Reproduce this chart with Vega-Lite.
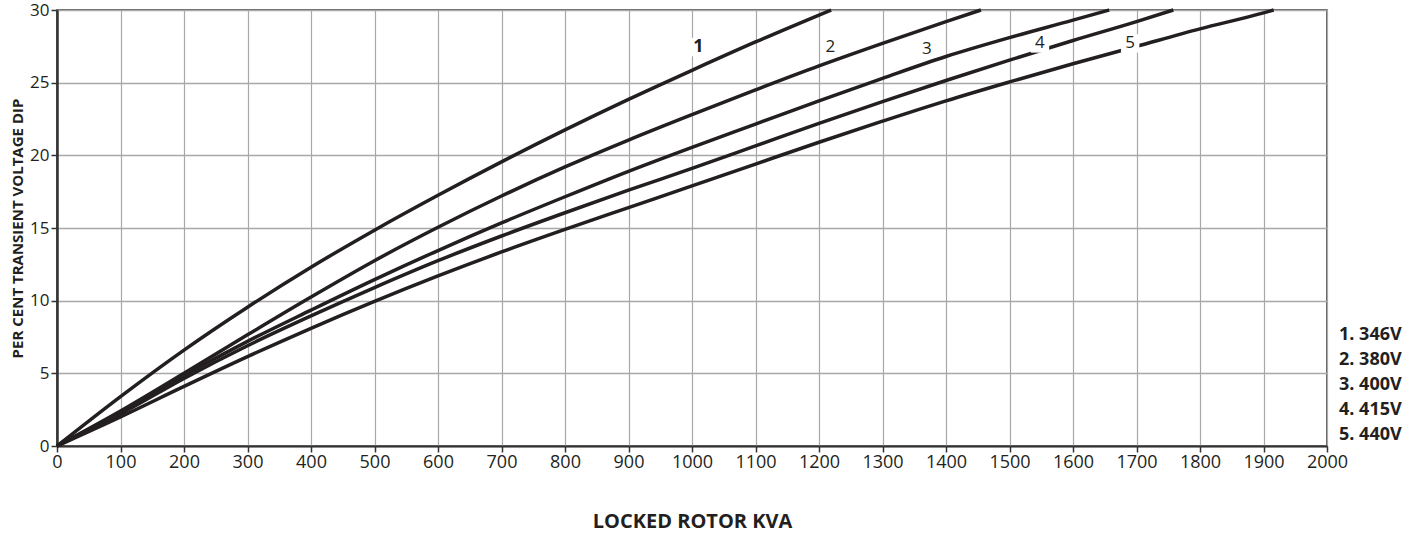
{
  "$schema": "https://vega.github.io/schema/vega-lite/v6.json",
  "width": 1270,
  "height": 436,
  "autosize": {"type": "none"},
  "padding": {"left": 57, "top": 10, "right": 89, "bottom": 87},
  "background": "white",
  "config": {"view": {"stroke": "#333333", "strokeWidth": 1.5}, "font": "Open Sans"},
  "datasets": {
    "curves": [
      {"series": "1. 346V", "kva": 0, "dip": 0},
      {"series": "1. 346V", "kva": 100, "dip": 3.4},
      {"series": "1. 346V", "kva": 200, "dip": 6.6},
      {"series": "1. 346V", "kva": 300, "dip": 9.55},
      {"series": "1. 346V", "kva": 400, "dip": 12.3},
      {"series": "1. 346V", "kva": 500, "dip": 14.85},
      {"series": "1. 346V", "kva": 600, "dip": 17.25},
      {"series": "1. 346V", "kva": 700, "dip": 19.55},
      {"series": "1. 346V", "kva": 800, "dip": 21.75},
      {"series": "1. 346V", "kva": 900, "dip": 23.85},
      {"series": "1. 346V", "kva": 1000, "dip": 25.85},
      {"series": "1. 346V", "kva": 1100, "dip": 27.8},
      {"series": "1. 346V", "kva": 1219, "dip": 30},
      {"series": "2. 380V", "kva": 0, "dip": 0},
      {"series": "2. 380V", "kva": 100, "dip": 2.4},
      {"series": "2. 380V", "kva": 200, "dip": 5.0},
      {"series": "2. 380V", "kva": 300, "dip": 7.65},
      {"series": "2. 380V", "kva": 400, "dip": 10.25},
      {"series": "2. 380V", "kva": 500, "dip": 12.75},
      {"series": "2. 380V", "kva": 600, "dip": 15.05},
      {"series": "2. 380V", "kva": 700, "dip": 17.2},
      {"series": "2. 380V", "kva": 800, "dip": 19.2},
      {"series": "2. 380V", "kva": 900, "dip": 21.05},
      {"series": "2. 380V", "kva": 1000, "dip": 22.8},
      {"series": "2. 380V", "kva": 1100, "dip": 24.5},
      {"series": "2. 380V", "kva": 1200, "dip": 26.15},
      {"series": "2. 380V", "kva": 1300, "dip": 27.7},
      {"series": "2. 380V", "kva": 1400, "dip": 29.2},
      {"series": "2. 380V", "kva": 1455, "dip": 30},
      {"series": "3. 400V", "kva": 0, "dip": 0},
      {"series": "3. 400V", "kva": 100, "dip": 2.3},
      {"series": "3. 400V", "kva": 200, "dip": 4.85},
      {"series": "3. 400V", "kva": 300, "dip": 7.2},
      {"series": "3. 400V", "kva": 400, "dip": 9.35},
      {"series": "3. 400V", "kva": 500, "dip": 11.45},
      {"series": "3. 400V", "kva": 600, "dip": 13.45},
      {"series": "3. 400V", "kva": 700, "dip": 15.35},
      {"series": "3. 400V", "kva": 800, "dip": 17.15},
      {"series": "3. 400V", "kva": 900, "dip": 18.9},
      {"series": "3. 400V", "kva": 1000, "dip": 20.55},
      {"series": "3. 400V", "kva": 1100, "dip": 22.15},
      {"series": "3. 400V", "kva": 1200, "dip": 23.75},
      {"series": "3. 400V", "kva": 1300, "dip": 25.3},
      {"series": "3. 400V", "kva": 1400, "dip": 26.8},
      {"series": "3. 400V", "kva": 1500, "dip": 28.1},
      {"series": "3. 400V", "kva": 1600, "dip": 29.3},
      {"series": "3. 400V", "kva": 1657, "dip": 30},
      {"series": "4. 415V", "kva": 0, "dip": 0},
      {"series": "4. 415V", "kva": 100, "dip": 2.2},
      {"series": "4. 415V", "kva": 200, "dip": 4.65},
      {"series": "4. 415V", "kva": 300, "dip": 6.9},
      {"series": "4. 415V", "kva": 400, "dip": 8.95},
      {"series": "4. 415V", "kva": 500, "dip": 10.9},
      {"series": "4. 415V", "kva": 600, "dip": 12.75},
      {"series": "4. 415V", "kva": 700, "dip": 14.45},
      {"series": "4. 415V", "kva": 800, "dip": 16.05},
      {"series": "4. 415V", "kva": 900, "dip": 17.6},
      {"series": "4. 415V", "kva": 1000, "dip": 19.1},
      {"series": "4. 415V", "kva": 1100, "dip": 20.65},
      {"series": "4. 415V", "kva": 1200, "dip": 22.2},
      {"series": "4. 415V", "kva": 1300, "dip": 23.7},
      {"series": "4. 415V", "kva": 1400, "dip": 25.15},
      {"series": "4. 415V", "kva": 1500, "dip": 26.55},
      {"series": "4. 415V", "kva": 1600, "dip": 27.9},
      {"series": "4. 415V", "kva": 1700, "dip": 29.2},
      {"series": "4. 415V", "kva": 1758, "dip": 30},
      {"series": "5. 440V", "kva": 0, "dip": 0},
      {"series": "5. 440V", "kva": 100, "dip": 2.0},
      {"series": "5. 440V", "kva": 200, "dip": 4.1},
      {"series": "5. 440V", "kva": 300, "dip": 6.15},
      {"series": "5. 440V", "kva": 400, "dip": 8.1},
      {"series": "5. 440V", "kva": 500, "dip": 9.95},
      {"series": "5. 440V", "kva": 600, "dip": 11.7},
      {"series": "5. 440V", "kva": 700, "dip": 13.35},
      {"series": "5. 440V", "kva": 800, "dip": 14.9},
      {"series": "5. 440V", "kva": 900, "dip": 16.4},
      {"series": "5. 440V", "kva": 1000, "dip": 17.9},
      {"series": "5. 440V", "kva": 1100, "dip": 19.4},
      {"series": "5. 440V", "kva": 1200, "dip": 20.9},
      {"series": "5. 440V", "kva": 1300, "dip": 22.35},
      {"series": "5. 440V", "kva": 1400, "dip": 23.75},
      {"series": "5. 440V", "kva": 1500, "dip": 25.05},
      {"series": "5. 440V", "kva": 1600, "dip": 26.3},
      {"series": "5. 440V", "kva": 1700, "dip": 27.5},
      {"series": "5. 440V", "kva": 1800, "dip": 28.7},
      {"series": "5. 440V", "kva": 1900, "dip": 29.8},
      {"series": "5. 440V", "kva": 1916, "dip": 30}
    ],
    "labels": [
      {"lab": "1", "kva": 1010, "dip": 27.45},
      {"lab": "2", "kva": 1218, "dip": 27.45},
      {"lab": "3", "kva": 1370, "dip": 27.35},
      {"lab": "4", "kva": 1548, "dip": 27.7},
      {"lab": "5", "kva": 1690, "dip": 27.7}
    ]
  },
  "layer": [
    {
      "data": {"name": "curves"},
      "mark": {"type": "line", "strokeWidth": 3.5, "interpolate": "monotone"},
      "encoding": {
        "x": {
          "field": "kva", "type": "quantitative",
          "scale": {"domain": [0, 2000], "nice": false, "zero": false},
          "axis": {
            "values": [0,100,200,300,400,500,600,700,800,900,1000,1100,1200,1300,1400,1500,1600,1700,1800,1900,2000],
            "format": "d",
            "grid": true, "gridColor": "#a8a8a8", "gridWidth": 1.2, "gridOpacity": 1,
            "domainColor": "#333333", "domainWidth": 2,
            "tickColor": "#333333", "tickSize": 6, "tickWidth": 1.5,
            "labelFontSize": 18, "labelColor": "#231f20", "labelPadding": 1, "labelFlush": false,
            "title": "LOCKED ROTOR KVA", "titleFontSize": 20, "titleFontWeight": "bold",
            "titleColor": "#231f20", "titlePadding": 40
          }
        },
        "y": {
          "field": "dip", "type": "quantitative",
          "scale": {"domain": [0, 30], "nice": false},
          "axis": {
            "values": [0,2.5,5,7.5,10,12.5,15,17.5,20,22.5,25,27.5,30],
            "labelExpr": "datum.value % 5 === 0 ? datum.label : ''",
            "grid": true,
            "gridColor": {"condition": {"test": "datum.value % 5 === 0", "value": "#a8a8a8"}, "value": "#c8c8c8"},
            "gridWidth": 1.3, "gridOpacity": 1,
            "domainColor": "#333333", "domainWidth": 2.5,
            "tickColor": "#333333", "tickSize": 6, "tickWidth": 1.5,
            "tickOpacity": {"condition": {"test": "datum.value % 5 === 0", "value": 1}, "value": 0},
            "labelFontSize": 17, "labelColor": "#231f20", "labelPadding": 2,
            "title": "PER CENT TRANSIENT VOLTAGE DIP", "titleFontSize": 15, "titleFontWeight": "bold",
            "titleColor": "#231f20", "titlePadding": 4
          }
        },
        "stroke": {
          "field": "series", "type": "nominal",
          "scale": {"range": ["#231f20"]},
          "legend": {
            "orient": "none", "legendX": 1264, "legendY": 316, "title": null,
            "symbolSize": 0, "symbolStrokeWidth": 0, "symbolOpacity": 0,
            "labelFontSize": 18, "labelFontWeight": "bold", "labelColor": "#231f20",
            "labelFont": "Open Sans", "labelOffset": 0, "rowPadding": 7, "padding": 0
          }
        }
      }
    },
    {
      "data": {"name": "labels"},
      "mark": {"type": "point", "shape": "square", "filled": true, "color": "white", "opacity": 1, "size": 340},
      "encoding": {
        "x": {"field": "kva", "type": "quantitative"},
        "y": {"field": "dip", "type": "quantitative"}
      }
    },
    {
      "data": {"name": "labels"},
      "transform": [{"filter": "datum.lab !== '1'"}],
      "mark": {"type": "text", "fontSize": 17, "color": "#231f20", "baseline": "middle", "align": "center"},
      "encoding": {
        "x": {"field": "kva", "type": "quantitative"},
        "y": {"field": "dip", "type": "quantitative"},
        "text": {"field": "lab"}
      }
    },
    {
      "data": {"name": "labels"},
      "transform": [{"filter": "datum.lab === '1'"}],
      "mark": {"type": "text", "fontSize": 18, "fontWeight": "bold", "color": "#231f20", "baseline": "middle", "align": "center"},
      "encoding": {
        "x": {"field": "kva", "type": "quantitative"},
        "y": {"field": "dip", "type": "quantitative"},
        "text": {"field": "lab"}
      }
    }
  ]
}
